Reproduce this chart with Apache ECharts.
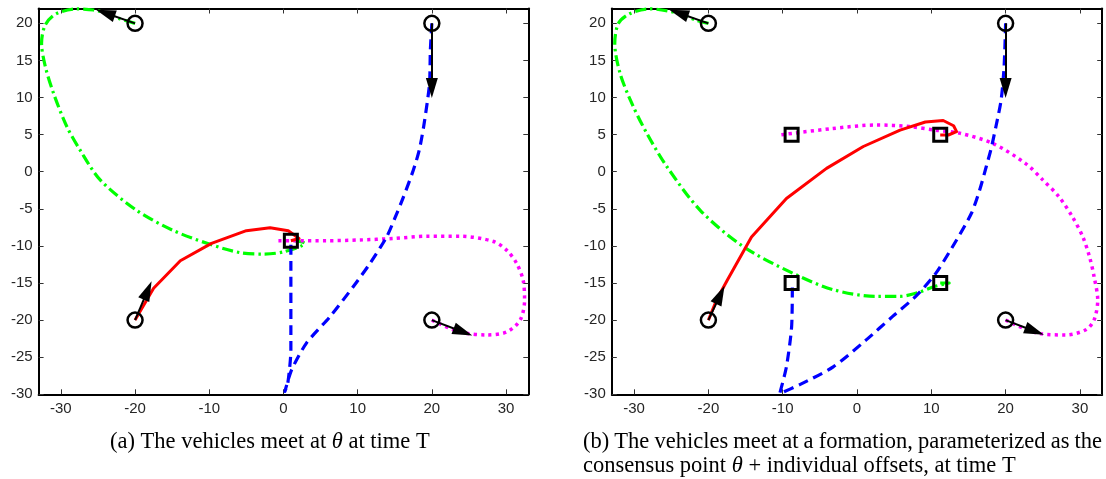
<!DOCTYPE html>
<html>
<head>
<meta charset="utf-8">
<script src="https://cdn.jsdelivr.net/npm/echarts@6/dist/echarts.min.js"></script>
<style>
  html, body { margin: 0; padding: 0; background: #fff; }
  #chart { width: 1106px; height: 479px; }
</style>
</head>
<body>
<div id="chart"></div>
<script>
// axis ticks
const xTicks = [-30, -20, -10, 0, 10, 20, 30];
const yTicks = [-30, -25, -20, -15, -10, -5, 0, 5, 10, 15, 20];

// vehicle start positions (circles), same in both panels
const starts = [[-20, 20], [20, 20], [-20, -20], [20, -20]];

// (a) meet at theta
const redA = [[-20, -20], [-17.5, -15.7], [-13.9, -12.0], [-9.7, -9.65], [-5.0, -7.95], [-1.8, -7.55], [0.65, -7.95], [2.1, -9.0], [1.0, -9.3]];
const greenA = [[-20, 20], [-22, 20.6], [-23.6, 21.3], [-25.6, 21.8], [-27.9, 21.95], [-30.6, 21.3], [-32.1, 19.8], [-32.6, 17.3], [-32.1, 14.2], [-31.0, 10.6], [-29.2, 6.1], [-27.4, 2.9], [-24.7, -1.1], [-19.8, -5.2], [-14.9, -7.9], [-10.3, -9.65], [-5.9, -10.9], [-2.7, -11.1], [0, -10.8], [2.9, -9.65], [1.5, -9.3]];
const blueA = [[20, 20], [19.8, 16.4], [19.7, 12.0], [19.4, 9.5], [18.9, 6.1], [18.3, 2.9], [17.5, 0.2], [16.1, -3.6], [15.0, -6.3], [13.9, -8.8], [11.7, -12.3], [9.4, -15.5], [6.3, -19.5], [3.1, -23.1], [1.1, -26.7], [0.2, -29.6], [0.6, -28.4], [1.0, -24.0], [1.0, -9.3]];
const pinkA = [[20, -20], [23.8, -21.6], [27.4, -22.0], [30.1, -21.6], [31.9, -20.0], [32.5, -17.3], [32.3, -14.6], [31.4, -12.3], [30.1, -10.6], [28.3, -9.4], [23.8, -8.7], [19.3, -8.7], [14.8, -9.0], [10.3, -9.2], [5.8, -9.3], [1.3, -9.3], [-0.9, -9.3]];
const goalsA = [[1.0, -9.3]];
const headsA = [[-24.0, 21.4], [20, 11.3], [-18.3, -16.0], [24.2, -21.6]];

// (b) meet at a formation
const redB = [[-20, -20], [-18.9, -17.3], [-17.5, -14.7], [-14.2, -8.8], [-9.5, -3.6], [-4.1, 0.45], [0.85, 3.4], [5.8, 5.6], [9.2, 6.7], [11.6, 6.9], [13.0, 6.2], [13.4, 5.4], [12.3, 4.95], [11.2, 4.95]];
const greenB = [[-20, 20], [-21.6, 20.4], [-23.8, 21.3], [-27.9, 21.95], [-30.6, 21.3], [-32.1, 20.0], [-32.6, 17.3], [-31.9, 13.3], [-30.3, 9.2], [-28.3, 5.2], [-25.6, 0.7], [-21.1, -5.2], [-15.3, -10.1], [-8.6, -13.7], [-3.2, -15.9], [2.6, -16.8], [5.8, -16.8], [8.5, -16.2], [10.3, -15.5], [12.4, -15.0], [11.2, -15.0]];
const blueB = [[20, 20], [19.8, 14.2], [19.4, 9.7], [18.7, 6.1], [18.0, 2.9], [17.4, 0.7], [16.5, -2.5], [15.4, -5.6], [13.4, -9.2], [10.6, -13.7], [7.9, -16.8], [4.8, -19.5], [1.2, -22.7], [-3.2, -26.3], [-7.7, -28.7], [-10.4, -29.9], [-9.5, -26.3], [-8.8, -20.9], [-8.7, -15.0]];
const pinkB = [[20, -20], [24.5, -21.8], [28.1, -22.0], [30.8, -21.3], [31.9, -20.0], [32.4, -17.3], [31.9, -14.1], [31.3, -11.5], [30.4, -8.8], [29.0, -6.1], [27.2, -3.4], [25.0, -1.1], [22.7, 1.1], [18.3, 3.8], [13.8, 5.2], [10.6, 5.6], [7.0, 6.1], [2.6, 6.3], [-3.5, 5.8], [-10.4, 4.95]];
const goalsB = [[-8.8, 5], [11.2, 5], [-8.8, -15], [11.2, -15]];
const headsB = [[-24.0, 21.4], [20, 11.3], [-18.4, -16.6], [23.9, -21.5]];

const captionA = '(a) The vehicles meet at {i|θ} at time T';
const captionB1 = ['(b)', 'The', 'vehicles', 'meet', 'at', 'a', 'formation,', 'parameterized', 'as', 'the'];
const captionB2 = 'consensus point {i|θ} + individual offsets, at time T';

const chart = echarts.init(document.getElementById('chart'));

const grids = [
  { left: 38.6, top: 8.5, width: 489.7, height: 385.8 },
  { left: 611.8, top: 8.5, width: 490.4, height: 385.8 }
];

const tickStyle = { color: '#333', width: 1 };
const labelFont = { fontFamily: 'Liberation Sans', fontSize: 15, color: '#262626' };

function axesFor(g) {
  const xs = ['bottom', 'top'].map((pos, k) => ({
    type: 'value', gridIndex: g, position: pos, min: -33, max: 33,
    axisLine: { onZero: false, lineStyle: { color: '#000', width: 2 } },
    axisTick: { inside: true, length: 5, customValues: xTicks, lineStyle: tickStyle },
    axisLabel: Object.assign({ show: k === 0, margin: 7, customValues: xTicks }, labelFont),
    splitLine: { show: false }
  }));
  const ys = ['left', 'right'].map((pos, k) => ({
    type: 'value', gridIndex: g, position: pos, min: -30, max: 22,
    axisLine: { onZero: false, lineStyle: { color: '#000', width: 2 } },
    axisTick: { inside: true, length: 5, customValues: yTicks, lineStyle: tickStyle },
    axisLabel: Object.assign({ show: k === 0, margin: 6, customValues: yTicks }, labelFont),
    splitLine: { show: false }
  }));
  return { xs, ys };
}

function pathSeries(ax, data, color, type, smooth, width) {
  return {
    type: 'line', xAxisIndex: ax, yAxisIndex: ax, data: data,
    showSymbol: false, symbol: 'none', smooth: smooth, silent: true, z: 2,
    lineStyle: { color: color, width: width || 3, type: type, cap: 'butt', join: 'round', opacity: 1 }
  };
}

function panel(g, red, green, blue, pink, goals, heads) {
  const ax = g * 2;
  return [
    pathSeries(ax, green, '#00ff00', [11, 4, 2.5, 4], 0.3, 3.2),
    pathSeries(ax, pink, '#ff00ff', [3.2, 4.2], 0.3, 3.5),
    pathSeries(ax, blue, '#0000ff', [10, 6], 0.25, 3.2),
    pathSeries(ax, red, '#ff0000', 'solid', false, 3),
    {
      type: 'lines', coordinateSystem: 'cartesian2d', xAxisIndex: ax, yAxisIndex: ax,
      data: starts.map((s, i) => ({ coords: [s, heads[i]] })),
      symbol: ['none', 'triangle'], symbolSize: [0, [12, 20]],
      lineStyle: { color: '#000', width: 2, opacity: 1, curveness: 0 },
      itemStyle: { color: '#000', opacity: 1 }, silent: true, z: 3
    },
    {
      type: 'scatter', xAxisIndex: ax, yAxisIndex: ax, data: starts,
      symbol: 'circle', symbolSize: 15, silent: true, z: 4,
      itemStyle: { color: 'rgba(0,0,0,0)', borderColor: '#000', borderWidth: 2.5, opacity: 1 }
    },
    {
      type: 'scatter', xAxisIndex: ax, yAxisIndex: ax, data: goals,
      symbol: 'rect', symbolSize: 13, silent: true, z: 4,
      itemStyle: { color: 'rgba(0,0,0,0)', borderColor: '#000', borderWidth: 3, opacity: 1 }
    }
  ];
}

const a0 = axesFor(0), a1 = axesFor(1);

// justified first line of caption (b)
const capFont = 22.5;
const capFamily = 'Liberation Serif';
const ctx = document.createElement('canvas').getContext('2d');
ctx.font = capFont + 'px "' + capFamily + '"';
const capLeft = 583, capRight = 1102;
const widths = captionB1.map(w => ctx.measureText(w).width);
const gap = (capRight - capLeft - widths.reduce((s, w) => s + w, 0)) / (captionB1.length - 1);
let cx = capLeft;
const wordEls = captionB1.map((w, i) => {
  const el = {
    type: 'text', left: cx, top: 431,
    style: { text: w, fontFamily: capFamily, fontSize: capFont, fill: '#000' }
  };
  cx += widths[i] + gap;
  return el;
});

const rich = { i: { fontFamily: capFamily, fontSize: capFont, fontStyle: 'italic', fill: '#000' } };

chart.setOption({
  animation: false,
  backgroundColor: '#fff',
  grid: grids,
  xAxis: a0.xs.concat(a1.xs),
  yAxis: a0.ys.concat(a1.ys),
  series: panel(0, redA, greenA, blueA, pinkA, goalsA, headsA)
    .concat(panel(1, redB, greenB, blueB, pinkB, goalsB, headsB)),
  graphic: [
    {
      type: 'text', left: 110, top: 431,
      style: { text: captionA, fontFamily: capFamily, fontSize: capFont, fill: '#000', rich: rich }
    },
    {
      type: 'text', left: capLeft, top: 455,
      style: { text: captionB2, fontFamily: capFamily, fontSize: capFont, fill: '#000', rich: rich }
    }
  ].concat(wordEls)
});
</script>
</body>
</html>
